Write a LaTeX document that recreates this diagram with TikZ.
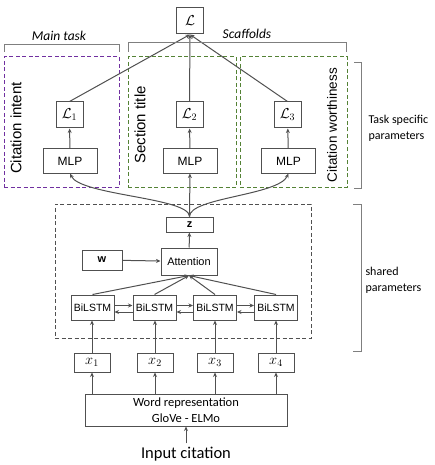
\documentclass[tikz,border=0pt]{standalone}
\usepackage{fontspec}
\setmainfont{Carlito}
\newfontfamily\arialfont{Liberation Sans}
\usetikzlibrary{arrows.meta}

\definecolor{linegray}{HTML}{505050}
\definecolor{bracegray}{HTML}{7F7F7F}
\definecolor{mainpurple}{HTML}{7030A0}
\definecolor{scafgreen}{HTML}{548235}

\begin{document}
\begin{tikzpicture}[x=1pt, y=-1pt,
  box/.style={draw=linegray, line width=1pt, inner sep=0pt, align=center},
  lossbox/.style={box, minimum width=27pt, minimum height=26pt, font=\fontsize{14}{16}\selectfont},
  mlp/.style={box, minimum width=54pt, minimum height=24pt, font=\arialfont\fontsize{12}{14}\selectfont},
  lstm/.style={box, minimum width=43pt, minimum height=25pt, font=\arialfont\fontsize{10.5}{12}\selectfont},
  tok/.style={box, minimum width=36pt, minimum height=19pt, font=\fontsize{14}{16}\selectfont},
  frame/.style={draw, dashed, line width=1pt, dash pattern=on 4pt off 2.5pt, inner sep=0pt},
  side/.style={font=\arialfont\fontsize{15}{17}\selectfont, rotate=90},
  brace/.style={draw=bracegray, line width=1pt},
  note/.style={align=left, anchor=west, font=\fontsize{12}{16}\selectfont},
  arr/.style={-{Stealth[length=4.5pt, width=4pt]}, line width=1pt, linegray}]

\useasboundingbox (0,0) rectangle (434,465);

% task specific part
\node[lossbox] (loss) at (190,21) {$\mathcal{L}$};
\node[frame, draw=mainpurple, minimum width=115pt, minimum height=130pt] (mainframe) at (61.5,122) {};
\node[frame, draw=scafgreen, minimum width=108pt, minimum height=130pt] (secframe) at (182,122) {};
\node[frame, draw=scafgreen, minimum width=107pt, minimum height=130pt] (worthframe) at (293.5,122) {};
\node[side] (intent) at (16,128) {Citation intent};
\node[side] (section) at (140,125) {Section title};
\node[side, font=\arialfont\fontsize{13.5}{16}\selectfont] (worthy) at (332,125) {Citation worthiness};

\node[lossbox] (l1) at (69.5,115) {$\mathcal{L}_1$};
\node[lossbox] (l2) at (189.5,115) {$\mathcal{L}_2$};
\node[lossbox] (l3) at (287.5,115) {$\mathcal{L}_3$};
\node[mlp] (mlp1) at (70,161) {MLP};
\node[mlp] (mlp2) at (190,161) {MLP};
\node[mlp] (mlp3) at (288.5,161) {MLP};

\foreach \i in {1,2,3}{
  \draw[arr] (mlp\i) -- (l\i);
  \draw[arr] (l\i.north) -- (loss.south);}

% brackets and labels
\draw[brace] (4,52) -- (4,45) -- (119,45) -- (119,52);
\draw[brace] (128,52) -- (128,43) -- (346,43) -- (346,52);
\node[font=\itshape\fontsize{13.5}{16}\selectfont] (maintxt) at (59,36) {Main task};
\node[font=\itshape\fontsize{13.5}{16}\selectfont] (scaftxt) at (247,34) {Scaffolds};
\draw[brace] (354,63) -- (361,63) -- (361,188) -- (354,188);
\node[note] (tasktxt) at (365,128) {Task specific\\parameters};
\draw[brace] (353,204) -- (361,204) -- (361,351) -- (353,351);
\node[note] (sharedtxt) at (362,280) {shared\\parameters};

% shared encoder
\node[frame, draw=linegray, minimum width=256pt, minimum height=134pt] (shared) at (183,271) {};
\node[box, minimum width=47pt, minimum height=15pt, font=\arialfont\bfseries\fontsize{11}{12}\selectfont] (z) at (189.5,224.5) {z};
\node[box, minimum width=56pt, minimum height=27pt, font=\arialfont\fontsize{11}{13}\selectfont] (att) at (189,261.5) {Attention};
\node[box, minimum width=40pt, minimum height=20pt, font=\arialfont\bfseries\fontsize{11}{12}\selectfont] (w) at (102,260) {w};
\node[lstm] (b1) at (92.5,307.5) {BiLSTM};
\node[lstm] (b2) at (154.5,307.5) {BiLSTM};
\node[lstm] (b3) at (215,307.5) {BiLSTM};
\node[lstm] (b4) at (276,307.5) {BiLSTM};

\draw[arr] (w) -- (att);
\draw[arr] (att) -- (z);
\foreach \i in {1,...,4}{
  \draw[arr] (b\i.north) -- (att.south);}
\foreach \i/\j in {1/2,2/3,3/4}{
  \draw[arr] ([yshift=2pt]b\i.east) -- ([yshift=2pt]b\j.west);
  \draw[arr] ([yshift=-4.5pt]b\j.west) -- ([yshift=-4.5pt]b\i.east);}

% z feeds every task
\draw[arr] (z) -- (mlp2);
\draw[arr] (z.north) .. controls +(0,-19) and +(10,22) .. (mlp1.south);
\draw[arr] (z.north) .. controls +(0,-19) and +(-10,22) .. (mlp3.south);

% input side
\node[tok] (x1) at (92,362.5) {$x_1$};
\node[tok] (x2) at (155,362.5) {$x_2$};
\node[tok] (x3) at (215,362.5) {$x_3$};
\node[tok] (x4) at (276,362.5) {$x_4$};
\node[box, minimum width=202pt, minimum height=32pt, font=\fontsize{12.5}{16}\selectfont] (word) at (186,410)
  {Word representation\\GloVe - ELMo};
\node[font=\fontsize{16.5}{18}\selectfont] (input) at (186,454) {Input citation};

\foreach \i in {1,...,4}{
  \draw[arr] (word.north -| x\i) -- (x\i.south);
  \draw[arr] (x\i.north) -- (x\i.north |- b\i.south);}
\draw[arr] (input.north) -- (word.south);
\end{tikzpicture}
\end{document}
